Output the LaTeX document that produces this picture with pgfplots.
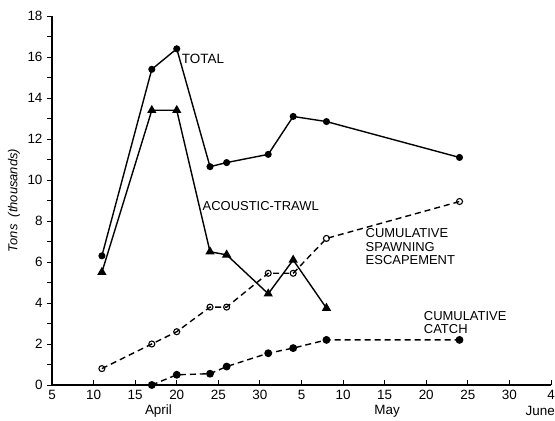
\documentclass[border=0pt]{standalone}
\usepackage{pgfplots}
\pgfplotsset{compat=1.18}
\usepackage{fontspec}
\setmainfont{Liberation Sans}
\begin{document}
\begin{tikzpicture}
\begin{axis}[
  at={(0,0)}, anchor=south west,
  scale only axis, width=499bp, height=369bp,
  xmin=5, xmax=65, ymin=0, ymax=18,
  axis x line=bottom, axis y line=left, axis line style={-, line width=1.1bp},
  xtick={5,10,...,65},
  xticklabels={5,10,15,20,25,30,5,10,15,20,25,30,4},
  ytick={0,2,...,18},
  minor y tick num=1,
  x tick style={line width=0.9bp, black},
  y tick style={line width=0.9bp, black},
  major tick length=5bp, minor tick length=5bp,
  xtick align=inside, ytick align=outside,
  tick label style={font=\fontsize{13.5}{14}\selectfont},
  /pgf/number format/assume math mode=true,
  xticklabel style={yshift=-1.5bp},
  yticklabel style={xshift=-1bp},
  clip=false,
  every axis plot/.append style={line width=1.4bp, black},
]
% Total
\addplot[mark=*, mark size=2.8bp] coordinates {
(11,6.3) (17,15.4) (20,16.4) (24,10.65) (26,10.85) (31,11.25) (34,13.1) (38,12.85) (54,11.1)};
% Acoustic-trawl
\addplot[mark=triangle*, mark size=4bp] coordinates {
(11,5.5) (17,13.4) (20,13.4) (24,6.5) (26,6.35) (31,4.45) (34,6.1) (38,3.75)};
% Cumulative spawning escapement
\addplot[dash pattern=on 6bp off 4bp, mark=o, mark size=3bp, mark options={solid, fill=white, line width=1.1bp}] coordinates {
(11,0.8) (17,2.0) (20,2.6) (24,3.8) (26,3.8) (31,5.45) (34,5.45) (38,7.15) (54,8.95)};
% Cumulative catch
\addplot[dash pattern=on 6bp off 4bp, mark=*, mark size=3.2bp, mark options={solid}] coordinates {
(17,0) (20,0.5) (24,0.55) (26,0.9) (31,1.55) (34,1.8) (38,2.2) (54,2.2)};

\node[anchor=west, inner sep=0pt, font=\fontsize{13.5}{14}\selectfont] at (axis cs:20.6,15.9) {TOTAL};
\node[anchor=west, inner sep=0pt, font=\fontsize{13}{14}\selectfont] at (axis cs:23.1,8.73) {ACOUSTIC-TRAWL};
\node[anchor=west, align=left, inner sep=0pt, font=\fontsize{13}{13.5}\selectfont] at (axis cs:42.7,6.75) {CUMULATIVE\\SPAWNING\\ESCAPEMENT};
\node[anchor=west, align=left, inner sep=0pt, font=\fontsize{13}{13.5}\selectfont] at (axis cs:49.7,3.04) {CUMULATIVE\\CATCH};
\node[font=\fontsize{13.5}{14}\selectfont] at (axis cs:17.8,-1.27) {April};
\node[font=\fontsize{13.5}{14}\selectfont] at (axis cs:45.3,-1.27) {May};
\node[font=\fontsize{13.5}{14}\selectfont] at (axis cs:63.7,-1.27) {June};
\node[rotate=90, font=\itshape\fontsize{13}{14}\selectfont] at ([xshift=-38bp]axis cs:5,9) {Tons\ \ (thousands)};
\end{axis}
\pgfresetboundingbox
\path[use as bounding box] (-52bp,-36bp) rectangle (503bp,385bp);
\end{tikzpicture}
\end{document}
